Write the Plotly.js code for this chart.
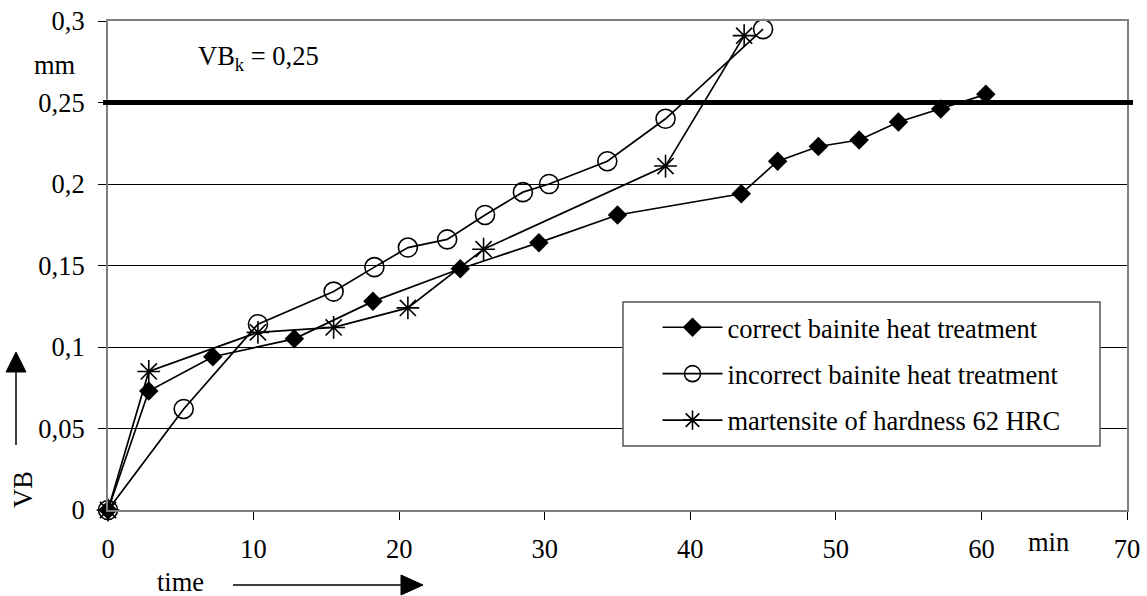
<!DOCTYPE html>
<html>
<head>
<meta charset="utf-8">
<script src="https://cdn.plot.ly/plotly-3.0.1.min.js"></script>
<style>html,body{margin:0;padding:0;background:#fff;}#chart{width:1147px;height:596px;}</style>
</head>
<body>
<div id="chart"></div>
<script>
// Data
const correctTime = [0, 2.8, 7.2, 12.8, 18.2, 24.2, 29.6, 35.0, 43.5, 46.0, 48.8, 51.6, 54.3, 57.2, 60.3];
const correctVB   = [0, 0.073, 0.094, 0.105, 0.128, 0.148, 0.164, 0.181, 0.194, 0.214, 0.223, 0.227, 0.238, 0.246, 0.255];

const incorrectTime = [0, 5.2, 10.3, 15.5, 18.3, 20.6, 23.3, 25.9, 28.5, 30.3, 34.3, 38.3, 45.0];
const incorrectVB   = [0, 0.062, 0.114, 0.134, 0.149, 0.161, 0.166, 0.181, 0.195, 0.200, 0.214, 0.240, 0.295];

const martTime = [0, 2.8, 10.3, 15.5, 20.6, 25.8, 38.3, 43.7];
const martVB   = [0, 0.085, 0.109, 0.112, 0.124, 0.160, 0.211, 0.291];

const seriesNames = ["correct bainite heat treatment", "incorrect bainite heat treatment", "martensite of hardness 62 HRC"];
const vbLimit = 0.25;
const xTickVals = [0, 10, 20, 30, 40, 50, 60, 70];
const yTickVals = [0, 0.05, 0.1, 0.15, 0.2, 0.25, 0.3];

const FONT = "Liberation Serif";
const FS = 26.5;

const traces = [
  {
    x: correctTime, y: correctVB, name: seriesNames[0], type: "scatter", mode: "lines+markers",
    legendgroup: "a", cliponaxis: false,
    line: {color: "#000", width: 1.7},
    marker: {symbol: "diamond", size: 15, color: "#000", line: {color: "#000", width: 0}}
  },
  {
    x: incorrectTime, y: incorrectVB, name: seriesNames[1], type: "scatter", mode: "lines+markers",
    legendgroup: "b", cliponaxis: false,
    line: {color: "#000", width: 1.7},
    marker: {symbol: "circle-open", size: 19, color: "#000", line: {color: "#000", width: 1.6}}
  },
  {
    x: martTime, y: martVB, name: seriesNames[2], type: "scatter", mode: "lines+markers",
    legendgroup: "c", cliponaxis: false,
    line: {color: "#000", width: 1.7},
    marker: {symbol: "asterisk-open", size: 19, color: "#000", line: {color: "#000", width: 1.6}}
  }
];

const L = 108, R = 20, T = 21, B = 86;
const W = 1147, H = 596;
const pw = W - L - R, ph = H - T - B;
const px = v => (v - L) / pw;
const py = v => (H - B - v) / ph;

const layout = {
  width: W, height: H,
  margin: {l: L, r: R, t: T, b: B, pad: 0},
  paper_bgcolor: "#fff", plot_bgcolor: "#fff",
  separators: ", ",
  font: {family: FONT, size: FS, color: "#000"},
  showlegend: true,
  legend: {
    x: px(656), y: py(302), xanchor: "left", yanchor: "top",
    bgcolor: "rgba(0,0,0,0)", bordercolor: "rgba(0,0,0,0)", borderwidth: 1.5,
    font: {family: FONT, size: FS, color: "#000"},
    tracegroupgap: 9,
    itemwidth: 60
  },
  xaxis: {
    range: [0, 70], tickvals: xTickVals, ticks: "outside", ticklen: 8, tickcolor: "#000",
    ticklabelstandoff: 6,
    showgrid: false, zeroline: false, showline: true, linecolor: "#808080", linewidth: 2,
    mirror: true, tickfont: {family: FONT, size: FS}, fixedrange: true
  },
  yaxis: {
    range: [0, 0.3], tickvals: yTickVals, ticks: "outside", ticklen: 8, tickcolor: "#000",
    ticklabelstandoff: 8,
    showgrid: true, gridcolor: "#000", gridwidth: 1, zeroline: false,
    showline: true, linecolor: "#808080", linewidth: 2, mirror: true,
    tickfont: {family: FONT, size: FS}, fixedrange: true
  },
  shapes: [
    {type: "line", xref: "paper", yref: "y", x0: px(103), x1: px(1133), y0: vbLimit, y1: vbLimit,
     line: {color: "#000", width: 5}},
    // legend box background
    {type: "rect", xref: "paper", yref: "paper", layer: "above",
     x0: px(623), x1: px(1100), y0: py(446), y1: py(302),
     fillcolor: "#fff", line: {color: "#555", width: 1.5}},
    // "time" arrow
    {type: "line", xref: "paper", yref: "paper", x0: px(233), x1: px(403), y0: py(585), y1: py(585),
     line: {color: "#000", width: 1.5}},
    {type: "path", xref: "paper", yref: "paper",
     path: `M ${px(401)} ${py(575)} L ${px(423)} ${py(585)} L ${px(401)} ${py(595)} Z`,
     fillcolor: "#000", line: {color: "#000", width: 1}},
    // "VB" arrow
    {type: "line", xref: "paper", yref: "paper", x0: px(16), x1: px(16), y0: py(445), y1: py(370),
     line: {color: "#000", width: 1.5}},
    {type: "path", xref: "paper", yref: "paper",
     path: `M ${px(6)} ${py(372)} L ${px(16)} ${py(352)} L ${px(26)} ${py(372)} Z`,
     fillcolor: "#000", line: {color: "#000", width: 1}}
  ],
  annotations: [
    {xref: "paper", yref: "paper", x: px(258), y: py(58), text: "VB<sub>k</sub> = 0,25", showarrow: false,
     font: {family: FONT, size: FS}, xanchor: "center", yanchor: "middle"},
    {xref: "paper", yref: "paper", x: px(55), y: py(65), text: "mm", showarrow: false,
     font: {family: FONT, size: FS}, xanchor: "center", yanchor: "middle"},
    {xref: "paper", yref: "paper", x: px(1048), y: py(542), text: "min", showarrow: false,
     font: {family: FONT, size: FS}, xanchor: "center", yanchor: "middle"},
    {xref: "paper", yref: "paper", x: px(180), y: py(582), text: "time", showarrow: false,
     font: {family: FONT, size: FS}, xanchor: "center", yanchor: "middle"},
    {xref: "paper", yref: "paper", x: px(23), y: py(490), text: "VB", showarrow: false, textangle: -90,
     font: {family: FONT, size: FS}, xanchor: "center", yanchor: "middle"}
  ]
};

Plotly.newPlot("chart", traces, layout, {displayModeBar: false, staticPlot: true});
</script>
</body>
</html>
